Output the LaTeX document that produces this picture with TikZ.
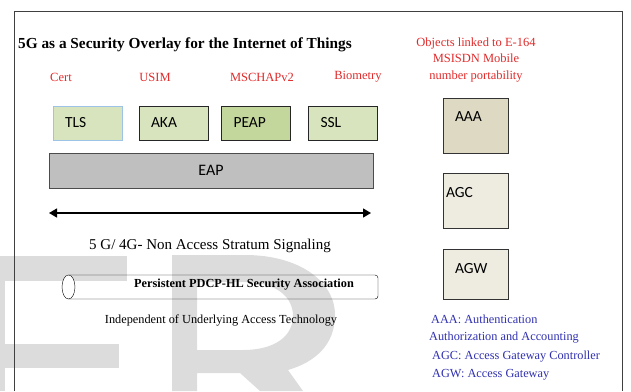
\documentclass[tikz,border=0pt]{standalone}
\usepackage{fontspec}
\setmainfont{Liberation Serif}
\newfontfamily\boxfont{Carlito}
\usetikzlibrary{arrows.meta,positioning}
\definecolor{labelred}{HTML}{E02A2A}
\definecolor{legendblue}{HTML}{3030B0}
\definecolor{leafgreen}{HTML}{D7E4BD}
\definecolor{peapgreen}{HTML}{C3D69B}
\definecolor{tlsblue}{HTML}{9DC3E6}
\definecolor{eapgray}{HTML}{BFBFBF}
\definecolor{aaatan}{HTML}{DDD9C3}
\definecolor{gatebeige}{HTML}{EEECE1}
\definecolor{markgray}{HTML}{DCDCDC}
\newcommand{\fs}[1]{\fontsize{#1}{#1}\selectfont}

\begin{document}
\begin{tikzpicture}[
    x=1pt, y=-1pt,
    method/.style={draw=black!85, fill=leafgreen, font=\boxfont\fs{15.5},
      minimum width=69pt, minimum height=34pt, inner xsep=12pt,
      text width=45pt, align=left},
    gatebox/.style={draw=black!80, fill=gatebeige, minimum width=65pt},
    gatetext/.style={anchor=west, font=\boxfont\fs{15.5}, inner sep=0pt},
    credential/.style={text=labelred, font=\fs{12.5}},
    legend/.style={anchor=west, text=legendblue, font=\fs{12.3}, inner sep=0pt},
    ]
    \useasboundingbox (0,0) rectangle (631,391);
    % watermark
    \fill[markgray] (0,256) rectangle (5,391);
    \fill[markgray] (0,256) rectangle (127,281);
    \fill[markgray] (0,344) rectangle (119,368);
    \fill[markgray, even odd rule]
      (172,391) -- (172,255) -- (245,255)
      .. controls (300,255) and (335,282) .. (335,315)
      .. controls (335,345) and (315,362) .. (288,370)
      -- (303,391) -- (260,391) -- (240,373) -- (197,373) -- (197,391) -- cycle
      (197,282) -- (243,282)
      .. controls (278,282) and (293,298) .. (293,316)
      .. controls (293,336) and (275,350) .. (243,350)
      -- (197,350) -- cycle;
    % frame
    \draw[black!75, line width=1pt] (14,391) -- (14,11) -- (622,11) -- (622,391);

    \node[anchor=west, font=\bfseries\fs{15.3}, inner sep=0pt] (title)
      at (18,45) {5G as a Security Overlay for the Internet of Things};

    % authentication methods
    \node[credential] (cert) at (61,77) {Cert};
    \node[credential] (usim) at (155,77) {USIM};
    \node[credential] (mschap) at (262,77) {MSCHAPv2};
    \node[credential] (biometry) at (358,77) {Biometry};

    \node[method, draw=tlsblue] (tls) at (87.5,123) {TLS};
    \node[method] (aka) at (173.5,123) {AKA};
    \node[method, fill=peapgreen] (peap) at (256,123) {PEAP};
    \node[method] (ssl) at (343,123) {SSL};

    \node[draw=black!70, fill=eapgray, font=\boxfont\fs{16},
      minimum width=324pt, minimum height=35pt] (eap) at (211,170.5) {EAP};

    \coordinate (nasl) at (49,213);
    \coordinate (nasr) at (371,213);
    \draw[line width=1.3pt, {Triangle[length=8pt,width=9pt]}-{Triangle[length=8pt,width=9pt]}]
      (nasl) -- (nasr);
    \node[font=\fs{15}] (nas) at (210,246) {5 G/ 4G- Non Access Stratum Signaling};

    % security association tube
    \draw[rounded corners=3pt] (68.5,275) -- (378,275) -- (378,299) -- (68.5,299);
    \draw[fill=white] (68.5,287) ellipse[x radius=6.5, y radius=12];
    \node[font=\bfseries\fs{12.3}] (pdcp) at (244,285)
      {Persistent PDCP-HL Security Association};
    \node[font=\fs{12.3}] (indep) at (221,320)
      {Independent of Underlying Access Technology};

    % network functions
    \node[credential, align=center, font=\fontsize{12.5}{16.5}\selectfont]
      (objects) at (476,60)
      {Objects linked to E-164\\ MSISDN Mobile\\ number portability};

    \node[gatebox, fill=aaatan, minimum height=55pt] (aaa) at (475.5,125.5) {};
    \node[gatetext] (aaalbl) at ([xshift=12pt, yshift=-19pt]aaa.north west) {AAA};
    \node[gatebox, minimum height=55pt] (agc) at (475.5,200.5) {};
    \node[gatetext] (agclbl) at ([xshift=3pt, yshift=-20pt]agc.north west) {AGC};
    \node[gatebox, minimum height=50pt] (agw) at (475.5,274) {};
    \node[gatetext] (agwlbl) at ([xshift=12pt, yshift=-20pt]agw.north west) {AGW};

    \node[legend] (leg1) at (431,319) {AAA: Authentication};
    \node[legend] (leg2) at (429,338) {Authorization and Accounting};
    \node[legend] (leg3) at (432,357) {AGC: Access Gateway Controller};
    \node[legend] (leg4) at (432,375) {AGW: Access Gateway};
  \end{tikzpicture}
\end{document}
